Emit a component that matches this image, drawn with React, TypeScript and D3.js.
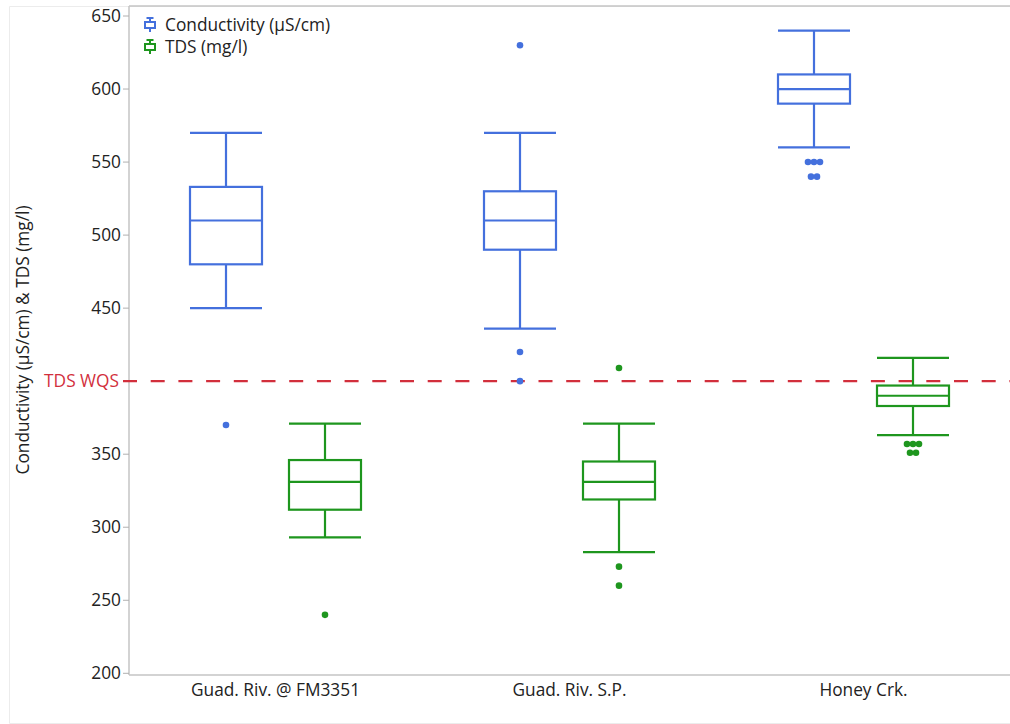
import React from "react";
import * as d3 from "d3";

// Sampling sites along the x axis
const sites = ["Guad. Riv. @ FM3351", "Guad. Riv. S.P.", "Honey Crk."];
const seriesNames = ["Conductivity (µS/cm)", "TDS (mg/l)"];

// Conductivity (µS/cm) box statistics per site
const condLower = [450, 436, 560];
const condQ1 = [480, 490, 590];
const condMedian = [510, 510, 600];
const condQ3 = [533, 530, 610];
const condUpper = [570, 570, 640];
const condOutliers = [[370], [630, 420, 400], [550, 550, 550, 540, 540]];

// TDS (mg/l) box statistics per site
const tdsLower = [293, 283, 363];
const tdsQ1 = [312, 319, 383];
const tdsMedian = [331, 331, 390];
const tdsQ3 = [346, 345, 397];
const tdsUpper = [371, 371, 416];
const tdsOutliers = [[240], [409, 273, 260], [357, 357, 357, 351, 351]];

const yTicks = [200, 250, 300, 350, 450, 500, 550, 600, 650];
const wqsValue = 400;
const wqsLabel = "TDS WQS";
const yTitle = "Conductivity (µS/cm) & TDS (mg/l)";

const colors = ["#4470dd", "#1e961e"];
const FONT = "'Open Sans', 'Noto Sans', sans-serif";
const FS = 17.3;

const W = 1010;
const H = 724;
const plotLeft = 129;
const plotTop = 6;
const plotBottom = 675;
const plotRight = 1010;

const series = [
  { lower: condLower, q1: condQ1, med: condMedian, q3: condQ3, upper: condUpper, out: condOutliers },
  { lower: tdsLower, q1: tdsQ1, med: tdsMedian, q3: tdsQ3, upper: tdsUpper, out: tdsOutliers },
];

export default function App() {
  const y = d3.scaleLinear().domain([200, 650]).range([673.3, 16]);
  const x = d3.scaleBand<string>().domain(sites).range([128.5, 1010.5]);
  const sub = d3.scalePoint<string>().domain(seriesNames).range([-49.5, 49.5]);
  const boxW = 72;
  const dotSpacing = 6;

  const marks: React.ReactNode[] = [];
  series.forEach((s, si) => {
    const col = colors[si];
    sites.forEach((site, i) => {
      const cx = (x(site) as number) + x.bandwidth() / 2 + (sub(seriesNames[si]) as number);
      const x0 = cx - boxW / 2;
      const x1 = cx + boxW / 2;
      const key = `${si}-${i}`;
      marks.push(
        <g key={key} stroke={col} strokeWidth={2.2} fill="none">
          <line x1={cx} x2={cx} y1={y(s.upper[i])} y2={y(s.q3[i])} />
          <line x1={cx} x2={cx} y1={y(s.q1[i])} y2={y(s.lower[i])} />
          <line x1={x0} x2={x1} y1={y(s.upper[i])} y2={y(s.upper[i])} />
          <line x1={x0} x2={x1} y1={y(s.lower[i])} y2={y(s.lower[i])} />
          <rect x={x0} y={y(s.q3[i])} width={boxW} height={y(s.q1[i]) - y(s.q3[i])} />
          <line x1={x0} x2={x1} y1={y(s.med[i])} y2={y(s.med[i])} />
        </g>
      );
      // outliers: identical values are spread side by side
      const groups = d3.group(s.out[i], (v) => v);
      groups.forEach((vals, v) => {
        vals.forEach((_, k) => {
          const off = (k - (vals.length - 1) / 2) * dotSpacing;
          marks.push(
            <circle key={`${key}-o-${v}-${k}`} cx={cx + off} cy={y(v)} r={3.3} fill={col} />
          );
        });
      });
    });
  });

  return (
    <div style={{ position: "fixed", left: 0, top: 0 }}>
      <svg width={W} height={H} style={{ display: "block", background: "#fff" }} fontFamily={FONT}>
        {/* outer panel edge */}
        <path d={`M${W},6.5 H9.5 V723.5 H${W}`} fill="none" stroke="#ececec" strokeWidth={1} />
        {/* plot frame */}
        <line x1={plotLeft} x2={plotRight} y1={plotTop} y2={plotTop} stroke="#c4c4c4" strokeWidth={1.5} />
        <line x1={plotLeft} x2={plotLeft} y1={plotTop} y2={plotBottom} stroke="#c4c4c4" strokeWidth={1.5} />
        <line x1={plotLeft} x2={plotRight} y1={plotBottom} y2={plotBottom} stroke="#c4c4c4" strokeWidth={1.5} />
        {/* y ticks */}
        {yTicks.map((t) => (
          <g key={t}>
            <line x1={plotLeft - 6} x2={plotLeft} y1={y(t)} y2={y(t)} stroke="#b0b0b0" strokeWidth={1} />
            <text x={plotLeft - 8} y={y(t)} dy="0.35em" textAnchor="end" fontSize={FS} fill="#222">
              {t}
            </text>
          </g>
        ))}
        {/* WQS reference */}
        <line
          x1={plotLeft - 6}
          x2={plotRight}
          y1={y(wqsValue)}
          y2={y(wqsValue)}
          stroke="#d22f3c"
          strokeWidth={2.2}
          strokeDasharray="14,13.7"
        />
        <text x={plotLeft - 10} y={y(wqsValue)} dy="0.35em" textAnchor="end" fontSize={FS} fill="#d22f3c">
          {wqsLabel}
        </text>
        {/* x labels */}
        {sites.map((s) => (
          <text
            key={s}
            x={(x(s) as number) + x.bandwidth() / 2}
            y={690}
            dy="0.35em"
            textAnchor="middle"
            fontSize={FS}
            fill="#222"
          >
            {s}
          </text>
        ))}
        <text
          transform={`translate(23,${340}) rotate(-90)`}
          textAnchor="middle"
          dy="0.35em"
          fontSize={FS}
          fill="#222"
        >
          {yTitle}
        </text>
        {marks}
        {/* legend */}
        {seriesNames.map((n, i) => {
          const ly = 25 + i * 22;
          const col = colors[i];
          return (
            <g key={n}>
              <g stroke={col} strokeWidth={2} fill="none">
                <line x1={150} x2={150} y1={ly - 7} y2={ly + 7} />
                <line x1={146.5} x2={153.5} y1={ly - 7} y2={ly - 7} />
                <rect x={145} y={ly - 3} width={10} height={6} fill="#fff" />
              </g>
              <text x={165} y={ly} dy="0.35em" fontSize={FS} fill="#222">
                {n}
              </text>
            </g>
          );
        })}
      </svg>
    </div>
  );
}
